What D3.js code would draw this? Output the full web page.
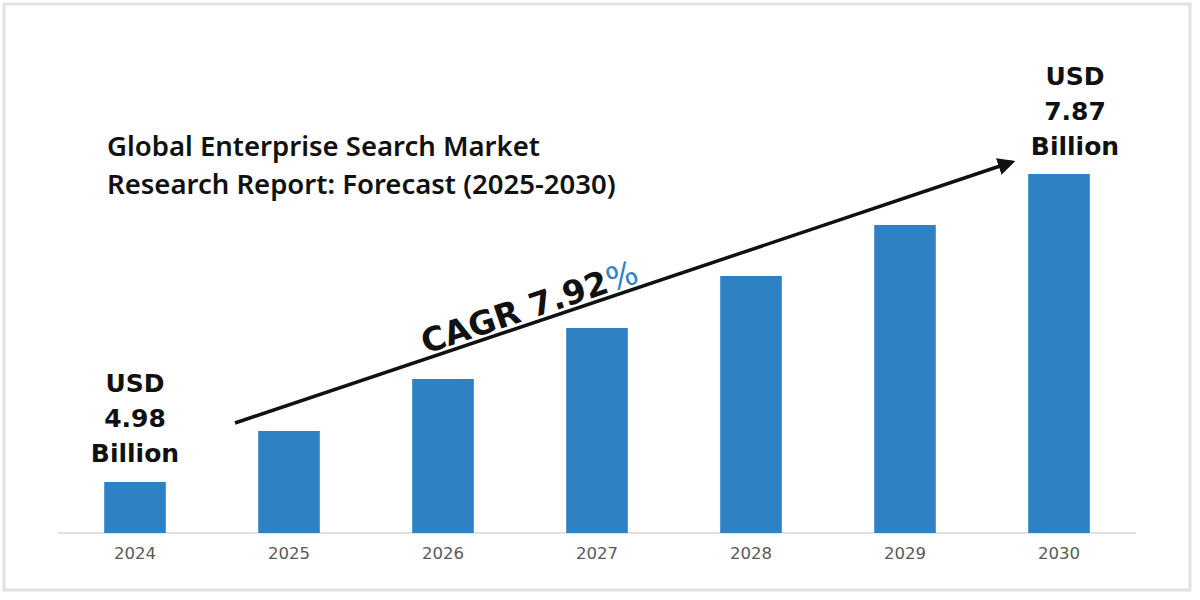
<!DOCTYPE html>
<html><head><meta charset="utf-8">
<script src="https://cdn.jsdelivr.net/npm/d3@7"></script>
<style>body{margin:0;background:#fff}</style>
</head><body>
<div id="chart"></div>
<script>
// bar heights as drawn (relative units)
var years = ["2024", "2025", "2026", "2027", "2028", "2029", "2030"];
var values = [51, 102, 154, 205, 257, 308, 359];
var titleLines = ["Global Enterprise Search Market", "Research Report: Forecast (2025-2030)"];
var startLabel = ["USD", "4.98", "Billion"];
var endLabel = ["USD", "7.87", "Billion"];
var cagr = "7.92";

const w = 1200, h = 600;
const base = 533;

const svg = d3.select("#chart").append("svg").attr("width", w).attr("height", h);

// frame with soft shadow
svg.append("rect").attr("x", 4).attr("y", 4).attr("width", w - 14).attr("height", h - 14)
  .attr("fill", "#fff").attr("stroke", "#e2e2e2").attr("stroke-width", 3);

const x = d3.scaleBand().domain(years).range([58, 1136]).paddingInner(0.6).paddingOuter(0.3);
const y = d3.scaleLinear().domain([0, 359]).range([base, 174]);

svg.append("line").attr("x1", 58).attr("x2", 1136).attr("y1", base).attr("y2", base)
  .attr("stroke", "#d9d9d9").attr("stroke-width", 1.5);

svg.selectAll(".bar").data(values).enter().append("rect")
  .attr("class", "bar")
  .attr("x", (d, i) => x(years[i]))
  .attr("y", d => y(d))
  .attr("width", x.bandwidth())
  .attr("height", d => base - y(d))
  .attr("fill", "#2e82c3");

const xAxis = svg.append("g").attr("transform", `translate(0,${base})`)
  .call(d3.axisBottom(x).tickSize(0).tickPadding(14));
xAxis.select(".domain").remove();
xAxis.selectAll("text").attr("font-family", "DejaVu Sans").attr("font-size", 16.5).attr("fill", "#595959");

svg.append("g").selectAll("text").data(titleLines).enter().append("text")
  .attr("x", 107).attr("y", (d, i) => 156 + i * 38)
  .attr("font-family", "Noto Sans").attr("font-weight", 600).attr("font-size", 27.5)
  .attr("fill", "#111").text(d => d);

function stackLabel(lines, cx, top) {
  svg.append("g").selectAll("text").data(lines).enter().append("text")
    .attr("x", cx).attr("y", (d, i) => top + i * 35)
    .attr("text-anchor", "middle")
    .attr("font-family", "DejaVu Sans").attr("font-weight", "bold").attr("font-size", 25)
    .attr("fill", "#111").text(d => d);
}
stackLabel(startLabel, x("2024") + x.bandwidth() / 2, 392);
stackLabel(endLabel, x("2030") + x.bandwidth() / 2 + 16, 85);

// arrow
svg.append("defs").append("marker").attr("id", "ah")
  .attr("viewBox", "0 0 10 10").attr("refX", 8).attr("refY", 5)
  .attr("markerWidth", 5).attr("markerHeight", 5).attr("orient", "auto")
  .append("path").attr("d", "M0,0L10,5L0,10z").attr("fill", "#111");
svg.append("line").attr("x1", 235).attr("y1", 423).attr("x2", 1012).attr("y2", 162)
  .attr("stroke", "#111").attr("stroke-width", 3.5).attr("marker-end", "url(#ah)");

const ang = Math.atan2(162 - 423, 1012 - 235) * 180 / Math.PI;
const t = svg.append("text").attr("transform", `translate(533,318) rotate(${ang})`)
  .attr("text-anchor", "middle")
  .attr("font-family", "DejaVu Sans").attr("font-weight", "bold").attr("font-size", 33)
  .attr("fill", "#111");
t.append("tspan").text("CAGR " + cagr);
t.append("tspan").attr("fill", "#2e82c3").attr("font-weight", "normal").text("%");
</script>
</body></html>
